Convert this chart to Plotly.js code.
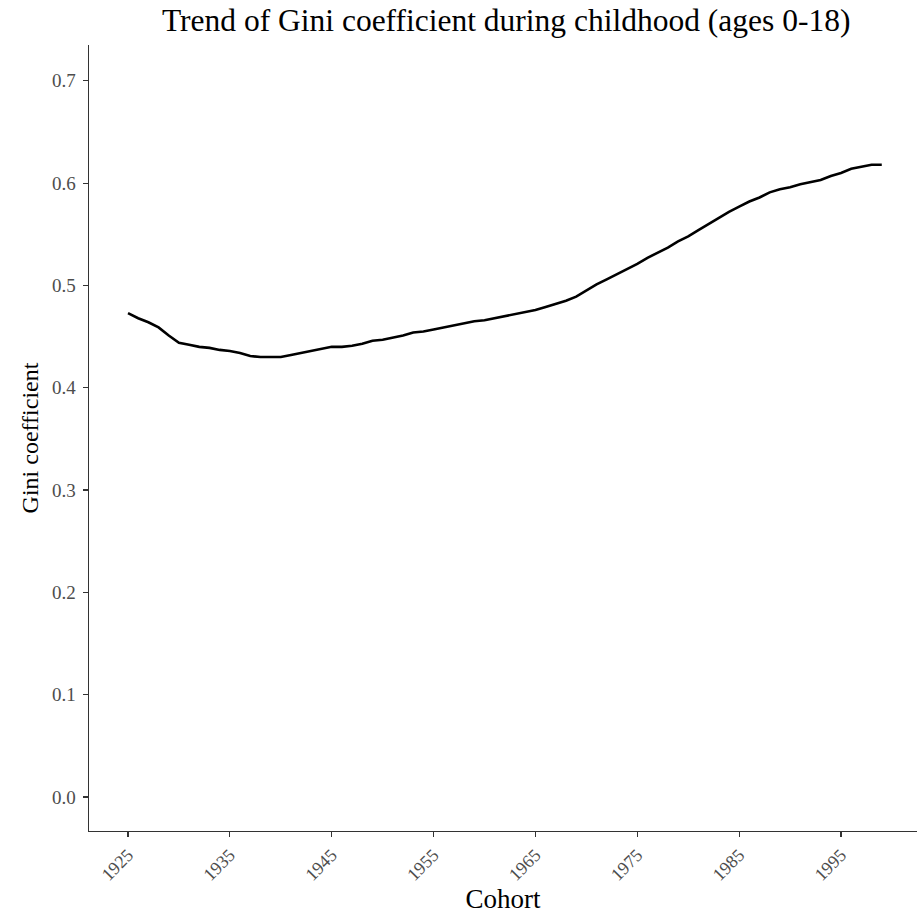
<!DOCTYPE html>
<html>
<head>
<meta charset="utf-8">
<script src="https://cdn.plot.ly/plotly-3.0.1.min.js"></script>
<style>html,body{margin:0;padding:0;background:#fff;}#chart{width:917px;height:914px;}</style>
</head>
<body>
<div id="chart"></div>
<script>
const cohorts = [1925,1926,1927,1928,1929,1930,1931,1932,1933,1934,1935,1936,1937,1938,1939,1940,1941,1942,1943,1944,1945,1946,1947,1948,1949,1950,1951,1952,1953,1954,1955,1956,1957,1958,1959,1960,1961,1962,1963,1964,1965,1966,1967,1968,1969,1970,1971,1972,1973,1974,1975,1976,1977,1978,1979,1980,1981,1982,1983,1984,1985,1986,1987,1988,1989,1990,1991,1992,1993,1994,1995,1996,1997,1998,1999];
const gini = [0.473,0.468,0.464,0.459,0.451,0.444,0.442,0.440,0.439,0.437,0.436,0.434,0.431,0.430,0.430,0.430,0.432,0.434,0.436,0.438,0.440,0.440,0.441,0.443,0.446,0.447,0.449,0.451,0.454,0.455,0.457,0.459,0.461,0.463,0.465,0.466,0.468,0.470,0.472,0.474,0.476,0.479,0.482,0.485,0.489,0.495,0.501,0.506,0.511,0.516,0.521,0.527,0.532,0.537,0.543,0.548,0.554,0.560,0.566,0.572,0.577,0.582,0.586,0.591,0.594,0.596,0.599,0.601,0.603,0.607,0.610,0.614,0.616,0.618,0.618];
const xTicks = [1925,1935,1945,1955,1965,1975,1985,1995];
const yTicks = [0.0,0.1,0.2,0.3,0.4,0.5,0.6,0.7];

const serif = "Liberation Serif, Times New Roman, serif";
Plotly.newPlot('chart', [{
  x: cohorts, y: gini, type: 'scatter', mode: 'lines',
  line: {color: '#000000', width: 2.6}, hoverinfo: 'skip'
}], {
  width: 917, height: 914,
  margin: {l: 89, r: 0, t: 45, b: 83},
  paper_bgcolor: '#ffffff', plot_bgcolor: '#ffffff',
  showlegend: false,
  title: {text: 'Trend of Gini coefficient during childhood (ages 0-18)', x: 0.552, xanchor: 'center', y: 0.978, yanchor: 'middle', font: {family: serif, size: 31.5, color: '#000000'}},
  xaxis: {
    range: [1921.17, 2002.46], tickvals: xTicks, ticktext: xTicks.map(String), tickangle: -45,
    showline: true, linecolor: '#333333', linewidth: 1.4, mirror: false,
    ticks: 'outside', ticklen: 5, tickcolor: '#333333', tickwidth: 1.2,
    showgrid: false, zeroline: false, automargin: false,
    tickfont: {family: serif, size: 18, color: '#4d4d4d'},
    title: {text: 'Cohort', font: {family: serif, size: 27, color: '#000000'}, standoff: 6}
  },
  yaxis: {
    range: [-0.0332, 0.735], tickvals: yTicks, ticktext: yTicks.map(v => v.toFixed(1)),
    showline: true, linecolor: '#333333', linewidth: 1.4,
    ticks: 'outside', ticklen: 5, tickcolor: '#333333', tickwidth: 1.2,
    showgrid: false, zeroline: false, automargin: false,
    ticklabelstandoff: 3,
    tickfont: {family: serif, size: 19, color: '#4d4d4d'},
    title: {text: 'Gini coefficient', font: {family: serif, size: 24, color: '#000000'}, standoff: 6}
  }
}, {displayModeBar: false, staticPlot: true});
</script>
</body>
</html>
